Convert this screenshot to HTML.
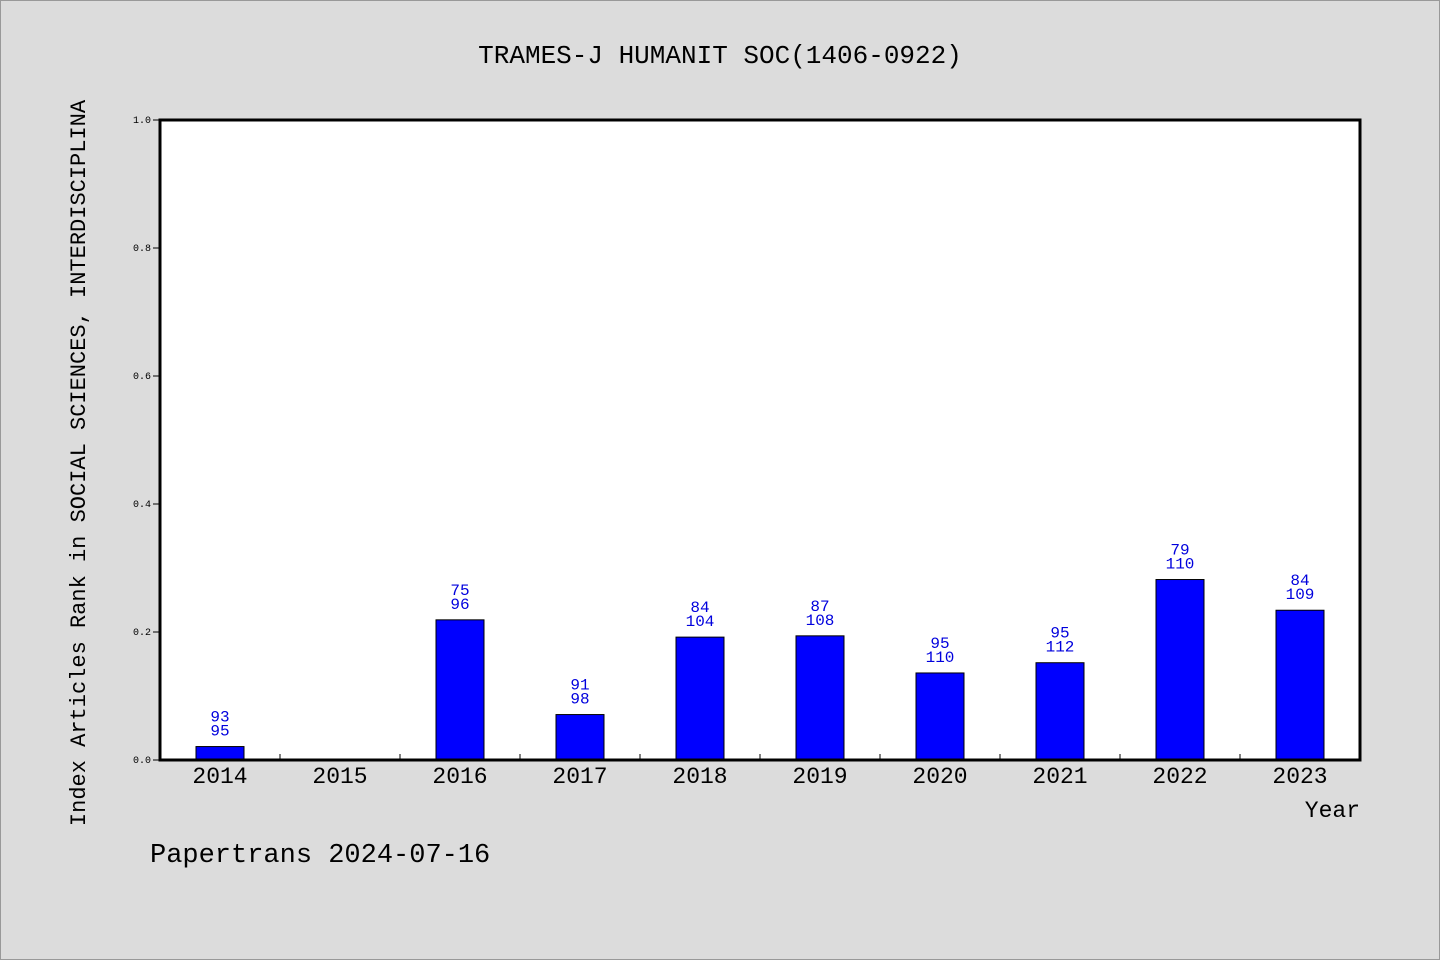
<!DOCTYPE html>
<html><head><meta charset="utf-8"><style>
html,body{margin:0;padding:0;background:#dcdcdc}
svg{display:block}
text{font-family:"Liberation Mono","WenQuanYi Zen Hei",monospace}
</style></head><body>
<svg width="1440" height="960" xmlns="http://www.w3.org/2000/svg">
<rect x="0.5" y="0.5" width="1439" height="959" fill="#dcdcdc" stroke="#999"/>
<text x="720" y="63" font-size="26" text-anchor="middle">TRAMES-J HUMANIT SOC(1406-0922)</text>
<rect x="160" y="120" width="1200" height="640" fill="#fff"/>
<g id="marks"></g>
<rect x="160" y="120" width="1200" height="640" fill="none" stroke="#000" stroke-width="3"/>
<text transform="translate(85,463) rotate(-90)" font-size="22" text-anchor="middle">Index Articles Rank in SOCIAL SCIENCES, INTERDISCIPLINA</text>
<text x="1360" y="817" font-size="23" text-anchor="end">Year</text>
<text x="150" y="862" font-size="27">Papertrans 2024-07-16</text>
</svg>
<script>
const years=["2014","2015","2016","2017","2018","2019","2020","2021","2022","2023"];
const values=[0.021,null,0.219,0.071,0.192,0.194,0.136,0.152,0.282,0.234];
const ranks=["93",null,"75","91","84","87","95","95","79","84"];
const totals=["95",null,"96","98","104","108","110","112","110","109"];
const yTicks=["0.0","0.2","0.4","0.6","0.8","1.0"];
const NS="http://www.w3.org/2000/svg";
const g=document.getElementById('marks');
const x0=160,slot=120,yb=760,h=640;
const xs=i=>x0+slot*i+slot/2;
const ys=v=>yb-v*h;
function mk(t,a){const e=document.createElementNS(NS,t);for(const k in a)e.setAttribute(k,a[k]);g.appendChild(e);return e;}
yTicks.forEach(t=>{const y=ys(parseFloat(t));
 const l=mk('line',{x1:153,x2:160,y1:y,y2:y,stroke:'#000'});
 
 
 const tx=mk('text',{x:151,y:y+3,'font-size':10,'text-anchor':'end'});tx.textContent=t;
 
 
});
years.forEach((yr,i)=>{
 if(i>0){const l=mk('line',{x1:x0+slot*i,x2:x0+slot*i,y1:754,y2:760,stroke:'#000'});
 
 }
 const tx=mk('text',{x:xs(i),y:783,'font-size':23,'text-anchor':'middle'});tx.textContent=yr;
 
 
 const v=values[i]; if(v==null) return;
 const top=ys(v);
 const b=mk('rect',{x:xs(i)-24,y:top,width:48,height:yb-top,fill:'#0000ff',stroke:'#000','stroke-width':1});
 
 
 const t1=mk('text',{x:xs(i),y:top-25,'font-size':16,fill:'#0000dd','text-anchor':'middle'});t1.textContent=ranks[i];
 
 
 const t2=mk('text',{x:xs(i),y:top-11,'font-size':16,fill:'#0000dd','text-anchor':'middle'});t2.textContent=totals[i];
 
 
});
</script>
</body></html>
